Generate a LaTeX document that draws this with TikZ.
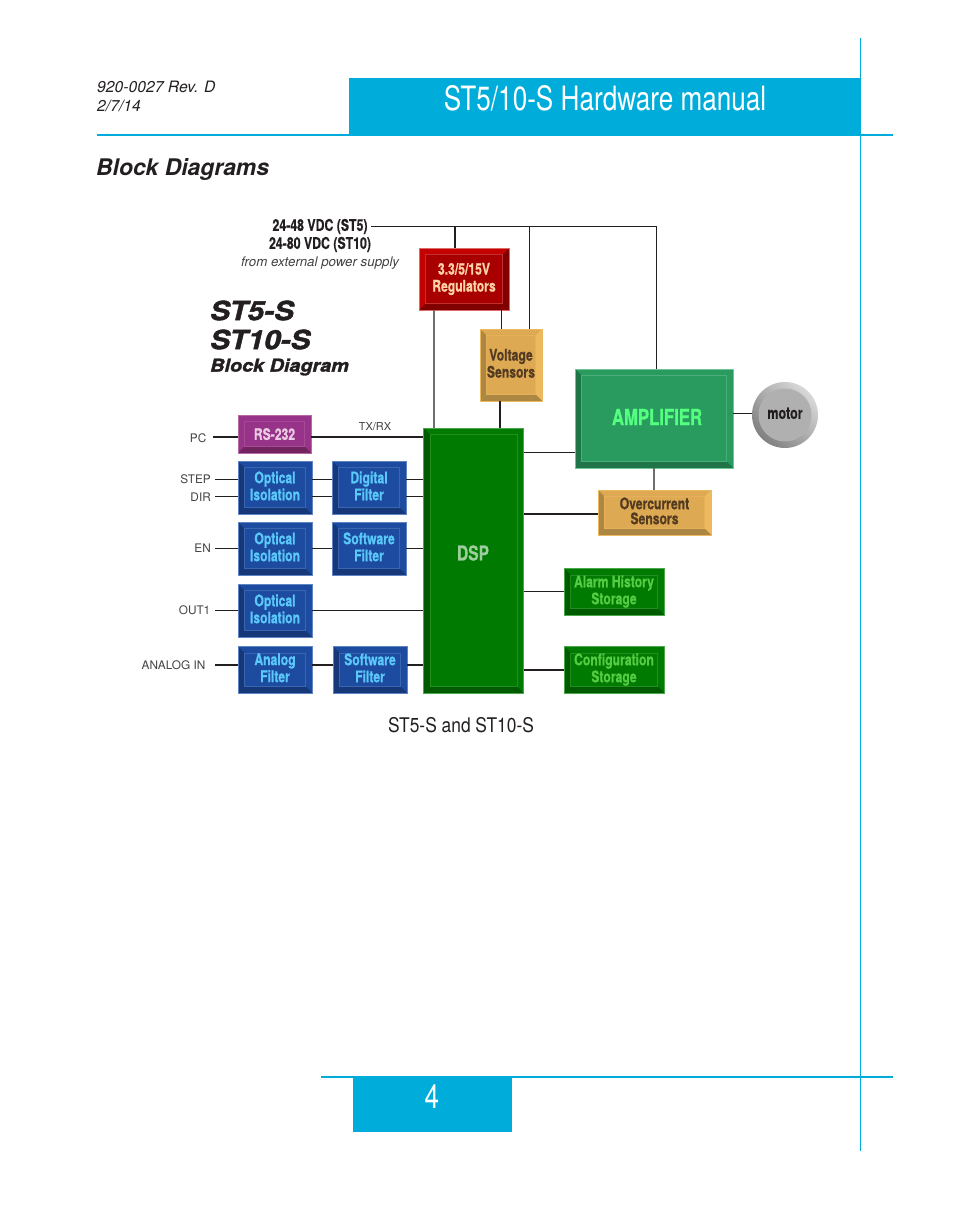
\documentclass[tikz,border=0pt]{standalone}
\usepackage{fontspec}
\setmainfont{TeX Gyre Heros}
\newfontfamily\condfont[FakeStretch=0.76, BoldFeatures={FakeBold=0.6}]{TeX Gyre Heros}
\newfontfamily\headfont[FakeStretch=0.78]{TeX Gyre Heros}
\newfontfamily\captfont[FakeStretch=0.86]{TeX Gyre Heros}
\newfontfamily\heavyfont[FakeStretch=1.12, BoldItalicFeatures={FakeBold=1.6}]{TeX Gyre Heros}
\usepackage{tikz}
\definecolor{bandblue}{HTML}{00ADDA}
\definecolor{inkblack}{HTML}{231F20}
\definecolor{redface}{HTML}{A80000}
\definecolor{redlight}{HTML}{C40000}
\definecolor{reddark}{HTML}{800000}
\definecolor{redline}{HTML}{E06A6A}
\definecolor{redtext}{HTML}{FFD2A6}
\definecolor{tanface}{HTML}{DEA953}
\definecolor{tandark}{HTML}{AC8744}
\definecolor{tanlight}{HTML}{EDB95E}
\definecolor{tantext}{HTML}{533B21}
\definecolor{purpleface}{HTML}{973388}
\definecolor{purpledark}{HTML}{72245F}
\definecolor{purpleline}{HTML}{B768A8}
\definecolor{purpletext}{HTML}{EBCBE4}
\definecolor{blueface}{HTML}{1C4BA0}
\definecolor{bluedark}{HTML}{163878}
\definecolor{blueline}{HTML}{5F84C4}
\definecolor{bluetext}{HTML}{5BC8FA}
\definecolor{greenface}{HTML}{007A00}
\definecolor{greendark}{HTML}{005A00}
\definecolor{greenline}{HTML}{4CA64C}
\definecolor{greentext}{HTML}{55CC44}
\definecolor{ampface}{HTML}{2A9B5E}
\definecolor{ampdark}{HTML}{1F7548}
\definecolor{ampline}{HTML}{6FC598}
\definecolor{amptext}{HTML}{55FF80}
\tikzset{
  bevelbox/.style n args={6}{
    draw=#6, line width=.4pt, inner sep=0pt, align=center, fill=#1,
    path picture={
      \coordinate (nw) at (path picture bounding box.north west);
      \coordinate (ne) at (path picture bounding box.north east);
      \coordinate (sw) at (path picture bounding box.south west);
      \coordinate (se) at (path picture bounding box.south east);
      \coordinate (inw) at ([shift={(6.5pt,-6.5pt)}]nw);
      \coordinate (ine) at ([shift={(-6.5pt,-6.5pt)}]ne);
      \coordinate (isw) at ([shift={(6.5pt,6.5pt)}]sw);
      \coordinate (ise) at ([shift={(-6.5pt,6.5pt)}]se);
      \fill[#2] (nw) -- (ne) -- (ine) -- (inw) -- cycle;
      \fill[#3] (nw) -- (sw) -- (isw) -- (inw) -- cycle;
      \fill[#4] (ne) -- (se) -- (ise) -- (ine) -- cycle;
      \fill[#5] (sw) -- (se) -- (ise) -- (isw) -- cycle;
      \draw[#6!45!#1, line width=.35pt] (inw) rectangle (ise);
    }},
  boxtext/.style={text=#1, text depth=3.4pt, font=\condfont\bfseries\fontsize{16}{17}\selectfont},
  redbox/.style={bevelbox={redface}{redlight}{redlight}{reddark}{reddark}{redline}, boxtext={redtext}},
  tanbox/.style={bevelbox={tanface}{tanface}{tandark}{tanlight}{tandark}{tanlight}, boxtext={tantext}},
  purplebox/.style={bevelbox={purpleface}{purpleface}{purpleface}{purpleface}{purpledark}{purpleline}, boxtext={purpletext}, text depth=0pt},
  bluebox/.style={bevelbox={blueface}{blueface}{bluedark}{blueface}{bluedark}{blueline}, boxtext={bluetext}},
  greenbox/.style={bevelbox={greenface}{greenface}{greendark}{greenface}{greendark}{greenline}, boxtext={greentext}},
  ampbox/.style={bevelbox={ampface}{ampface}{ampdark}{ampface}{ampdark}{ampline}},
  motornode/.style={circle, minimum size=66pt, inner sep=0pt, shading=axis, left color=black!50, right color=black!15, shading angle=135,
    path picture={\fill[black!31] (path picture bounding box.center) circle (26.5pt);},
    text=inkblack, text depth=3.4pt, font=\condfont\bfseries\fontsize{16.5}{17}\selectfont},
  signal/.style={text=inkblack!85, inner sep=0pt, font=\fontsize{11.8}{13}\selectfont},
  wire/.style={draw=inkblack, line width=1pt},
  fatwire/.style={draw=inkblack, line width=1.5pt}
}

\begin{document}
\begin{tikzpicture}[x=1pt, y=-1pt]
  \useasboundingbox (0, 0) rectangle (954, 1209);
  % page frame
  \node[fill = bandblue, inner sep = 0pt, minimum width = 511pt, minimum height = 57pt] at (604.5, 106.5) (band) {};
  \node[text = white, font = \headfont\fontsize{33.5}{40}\selectfont] at (605, 98) (title) {ST5/10-S Hardware manual};
  \fill[bandblue] (97, 134) rectangle (893, 136);
  \fill[bandblue] (859.5, 38) rectangle (860.5, 1151);
  \fill[bandblue] (321, 1076) rectangle (893, 1078);
  \node[fill = bandblue, inner sep = 0pt, minimum width = 159pt, minimum height = 55pt] at (432.5, 1104.5) (pageband) {};
  \node[text = white, font = \headfont\fontsize{33.5}{40}\selectfont] at (432, 1097) (pagenum) {4};
  \node[anchor = west, inner sep = 0pt, align = left, text = inkblack, font = \itshape\fontsize{15.7}{18.5}\selectfont] at (97, 96.5) (rev) {920-0027 Rev. D\\2/7/14};
  \node[anchor = west, inner sep = 0pt, text = inkblack, font = \bfseries\itshape\fontsize{22.9}{26}\selectfont] at (96, 170) (section) {Block Diagrams};

  % heading
  \node[anchor = west, inner sep = 0pt, text = inkblack, font = \heavyfont\bfseries\itshape\fontsize{26.5}{29}\selectfont] at (210, 310.5) (st5) {ST5-S};
  \node[anchor = west, inner sep = 0pt, text = inkblack, font = \heavyfont\bfseries\itshape\fontsize{26.5}{29}\selectfont] at (210, 339.5) (st10) {ST10-S};
  \node[anchor = west, inner sep = 0pt, text = inkblack, font = \heavyfont\bfseries\itshape\fontsize{17.7}{19}\selectfont] at (210, 367) (subhead) {Block Diagram};
  \node[text = inkblack, font = \condfont\bfseries\fontsize{16.2}{18}\selectfont, inner sep = 0pt, align = center] at (320, 235.5) (supply) {24-48 VDC (ST5)\\24-80 VDC (ST10)};
  \node[text = inkblack!85, font = \itshape\fontsize{13.3}{15}\selectfont, inner sep = 0pt] at (320, 263) (extern) {from external power supply};

  % blocks
  \node[redbox, minimum width = 90pt, minimum height = 62pt] at (464, 279) (regs) {3.3/5/15V\\Regulators};
  \node[tanbox, minimum width = 62pt, minimum height = 72pt] at (511, 365) (volt) {Voltage\\Sensors};
  \node[purplebox, minimum width = 73pt, minimum height = 38pt] at (274.5, 434) (rs232) {RS-232};
  \node[bluebox, minimum width = 74pt, minimum height = 53pt] at (275, 487.5) (opta) {Optical\\Isolation};
  \node[bluebox, minimum width = 74pt, minimum height = 53pt] at (369, 487.5) (digital) {Digital\\Filter};
  \node[bluebox, minimum width = 74pt, minimum height = 53pt] at (275, 548.5) (optb) {Optical\\Isolation};
  \node[bluebox, minimum width = 74pt, minimum height = 53pt] at (369, 548.5) (softa) {Software\\Filter};
  \node[bluebox, minimum width = 74pt, minimum height = 53pt] at (275, 610.5) (optc) {Optical\\Isolation};
  \node[bluebox, minimum width = 74pt, minimum height = 46.5pt] at (275, 669.5) (analog) {Analog\\Filter};
  \node[bluebox, minimum width = 74pt, minimum height = 46.5pt] at (370, 669.5) (softb) {Software\\Filter};
  \node[greenbox, minimum width = 100pt, minimum height = 265pt] at (473.5, 560.5) (dsp) {};
  \node[text = greenline!55!white, font = \condfont\bfseries\fontsize{20.5}{24}\selectfont] at (473, 553) (dsplabel) {DSP};
  \node[ampbox, minimum width = 158pt, minimum height = 99pt] at (654, 418.5) (amp) {};
  \node[text = amptext, font = \condfont\bfseries\fontsize{22}{26}\selectfont] at (657, 417) (amplabel) {AMPLIFIER};
  \node[motornode] at (785, 415) (motor) {motor};
  \node[tanbox, minimum width = 113pt, minimum height = 45pt, font = \condfont\bfseries\fontsize{16}{15}\selectfont] at (654.5, 512.5) (over) {Overcurrent\\Sensors};
  \node[greenbox, minimum width = 100pt, minimum height = 46.5pt] at (614, 591.5) (alarm) {Alarm History\\Storage};
  \node[greenbox, minimum width = 100pt, minimum height = 46.5pt] at (614, 669.5) (config) {Configuration\\Storage};

  % input labels
  \node[signal, anchor = east] at (206.5, 438) (pclabel) {PC};
  \node[signal, anchor = east] at (211, 479) (steplabel) {STEP};
  \node[signal, anchor = east] at (211, 497) (dirlabel) {DIR};
  \node[signal, anchor = east] at (211, 548) (enlabel) {EN};
  \node[signal, anchor = east] at (210.5, 610) (outlabel) {OUT1};
  \node[signal, anchor = east] at (205.5, 665) (analoglabel) {ANALOG IN};
  \node[signal, font = \fontsize{11}{13}\selectfont] at (375, 427) (txrx) {TX/RX};
  \node[text = inkblack, font = \captfont\fontsize{20.2}{24}\selectfont, inner sep = 0pt] at (461, 725) (caption) {ST5-S and ST10-S};

  % wiring
  \coordinate (vin) at (371, 226);
  \coordinate (regin) at (455, 226);
  \coordinate (voltin) at (529.5, 226);
  \coordinate (ampin) at (656, 226);
  \coordinate (regdsp) at (434, 300);
  \coordinate (regvolt) at (501.5, 300);
  \coordinate (voltdsp) at (500, 400);
  \coordinate (pcin) at (213, 437);
  \coordinate (stepin) at (215, 479);
  \coordinate (dirin) at (215, 496);
  \coordinate (enin) at (215, 548);
  \coordinate (outin) at (215, 610);
  \coordinate (anain) at (215, 665);
  \coordinate (dspamp) at (524, 452.5);
  \coordinate (dspover) at (524, 514);
  \coordinate (dspalarm) at (524, 591);
  \coordinate (dspconfig) at (524, 670);
  \coordinate (ampmotor) at (733, 413.5);
  \draw[wire] (vin) -- (ampin) -- (ampin |- amp.north);
  \draw[fatwire] (regin) -- (regin |- regs.north);
  \draw[wire] (voltin) -- (voltin |- volt.north);
  \draw[fatwire, draw = inkblack!65] (regdsp |- regs.south) -- (regdsp |- dsp.north);
  \draw[wire] (regvolt |- regs.south) -- (regvolt |- volt.north);
  \draw[fatwire] (voltdsp |- volt.south) -- (voltdsp |- dsp.north);
  \draw[fatwire] (pcin) -- (pcin -| rs232.west);
  \draw[fatwire] (pcin -| rs232.east) -- (pcin -| dsp.west);
  \foreach \in/\left/\right in {stepin/opta/digital, dirin/opta/digital, enin/optb/softa}
  {
  \draw[wire] (\in) -- (\in -| \left.west);
  \draw[wire] (\in -| \left.east) -- (\in -| \right.west);
  \draw[wire] (\in -| \right.east) -- (\in -| dsp.west);
  }
  \draw[wire] (outin) -- (outin -| optc.west);
  \draw[wire] (outin -| optc.east) -- (outin -| dsp.west);
  \draw[fatwire] (anain) -- (anain -| analog.west);
  \draw[fatwire] (anain -| analog.east) -- (anain -| softb.west);
  \draw[fatwire] (anain -| softb.east) -- (anain -| dsp.west);
  \draw[wire] (dspamp) -- (dspamp -| amp.west);
  \draw[fatwire] (dspover) -- (dspover -| over.west);
  \draw[wire] (dspalarm) -- (dspalarm -| alarm.west);
  \draw[fatwire] (dspconfig) -- (dspconfig -| config.west);
  \draw[fatwire] (ampmotor) -- (ampmotor -| motor.west);
  \draw[fatwire, draw = inkblack!65] (amp.south) -- (amp.south |- over.north);
\end{tikzpicture}
\end{document}
